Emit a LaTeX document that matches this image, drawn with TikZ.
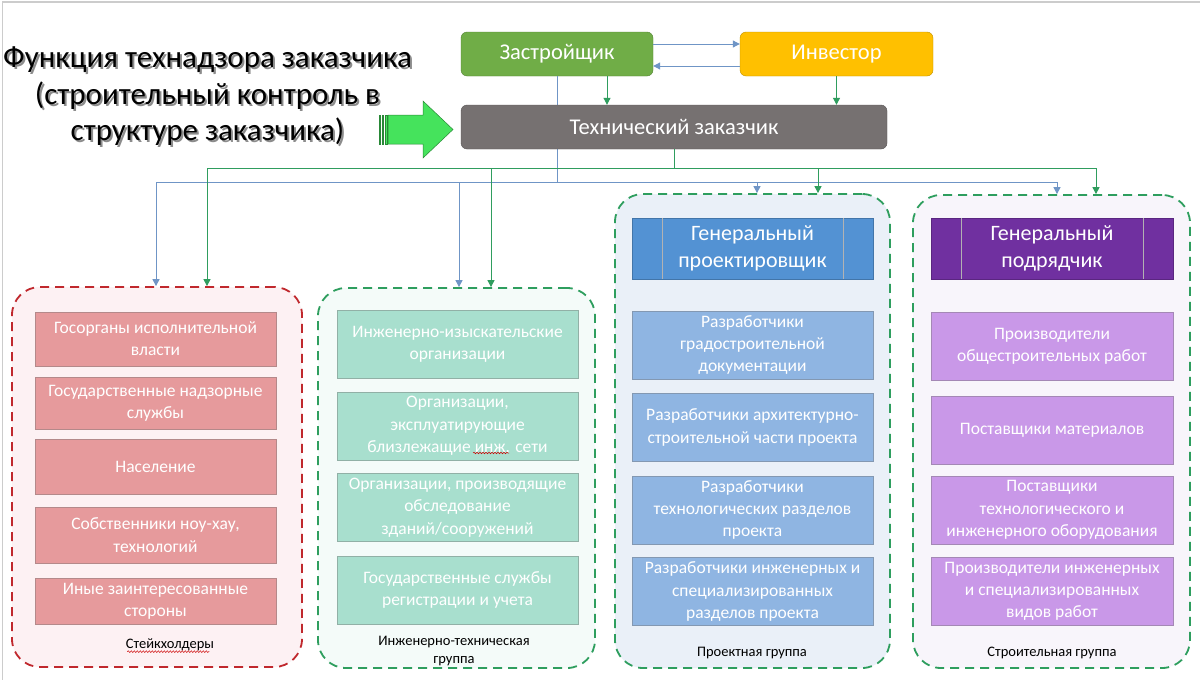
\documentclass[tikz,border=0pt]{standalone}
\usepackage{fontspec}
\setmainfont{Carlito}
\usetikzlibrary{arrows.meta,decorations.pathmorphing}

\definecolor{lineblue}{HTML}{6F95C6}
\definecolor{linegreen}{HTML}{2F9D5E}
\definecolor{zastrgreen}{HTML}{70AD47}
\definecolor{investyellow}{HTML}{FFC000}
\definecolor{techgray}{HTML}{767171}
\definecolor{grpred}{HTML}{C0282D}
\definecolor{grpgreen}{HTML}{2E9E5E}
\definecolor{pinkfill}{HTML}{E69A9C}
\definecolor{mintfill}{HTML}{A8DFCE}
\definecolor{bluefill}{HTML}{8FB5E2}
\definecolor{lilacfill}{HTML}{C998E8}
\definecolor{hdrblue}{HTML}{5392D3}
\definecolor{hdrpurple}{HTML}{7030A0}
\definecolor{arrowgreen}{HTML}{45E35C}
\definecolor{redbg}{HTML}{FDF1F3}
\definecolor{mintbg}{HTML}{F4FBF9}
\definecolor{bluebg}{HTML}{EAF0F8}
\definecolor{lilacbg}{HTML}{F8F5FB}

\begin{document}
\begin{tikzpicture}[x=1pt,y=-1pt,
  topbox/.style={draw=#1!75!black,fill=#1,rounded corners=6pt,text=white,
    minimum height=44,font=\fontsize{22.5}{26}\selectfont},
  grp/.style={draw=#1,dashed,dash pattern=on 9pt off 6pt,line width=1.8pt,
    rounded corners=28pt,inner sep=0pt},
  item/.style={draw=#1!70!black!80,fill=#1,text=white,align=center,thin,
    minimum width=241,font=\fontsize{17.5}{22.3}\selectfont},
  hdr/.style={draw=#1!80!black,fill=#1,text=white,align=center,thin,
    minimum width=241,minimum height=61,font=\fontsize{22}{27}\selectfont},
  grplabel/.style={align=center,font=\fontsize{14.5}{18}\selectfont},
  bluearr/.style={draw=lineblue,line width=1pt,-{Triangle[width=7pt,length=7pt]}},
  greenarr/.style={draw=linegreen,line width=1pt,-{Triangle[width=7pt,length=7pt]}},
  wavy/.style={draw=red!80!black,line width=0.5pt,
    decorate,decoration={snake,amplitude=0.8pt,segment length=3pt}}
]
\fill[white] (0,0) rectangle (1200,680);
\useasboundingbox (0,0) rectangle (1200,680);
\draw[black!20,line width=1.5pt] (2.5,680) -- (2.5,2) -- (1200,2);

% title
\node[align=center,text=black!45,font=\fontsize{31}{36.5}\selectfont] (titlesh) at (209.5,98.5)
  {Функция технадзора заказчика\\(строительный контроль в\\структуре заказчика)};
\node[align=center,font=\fontsize{31}{36.5}\selectfont] (title) at (207.5,96.5)
  {Функция технадзора заказчика\\(строительный контроль в\\структуре заказчика)};

% arrow
\foreach \x in {379,382.2,385.4}
{
\fill[arrowgreen,draw=arrowgreen!60!black,line width=0.3pt] (\x,115) rectangle (\x+1.4,144);
}
\draw[fill=arrowgreen,draw=arrowgreen!60!black,line width=0.5pt]
  (388,115) -- (423,115) -- (423,101) -- (453,129.5) -- (423,158) -- (423,144) -- (388,144) -- cycle;

% top
\node[topbox=zastrgreen,minimum width=192] (zastr) at (557,54) {Застройщик};
\node[topbox=investyellow,minimum width=193] (invest) at (836.5,54) {Инвестор};
\draw[bluearr] ([yshift=10pt]zastr.east) -- ([yshift=10pt]invest.west);
\draw[bluearr] ([yshift=-12pt]invest.west) -- ([yshift=-12pt]zastr.east);
\coordinate (bl) at (557,182);
\coordinate (gl) at (674,168);
\draw[lineblue,line width=1pt] (zastr.south) -- (bl);
\node[topbox=techgray,minimum width=426] (tech) at (674,127) {Технический заказчик};
\draw[greenarr] (607,0 |- zastr.south) -- (607,0 |- tech.north);
\draw[greenarr] (invest.south) -- (invest.south |- tech.north);
\draw[linegreen,line width=1pt] (tech.south) -- (gl);

% groups
\node[grp=grpred,fill=redbg,minimum width=290,minimum height=380] (stgrp) at (157,477) {};
\node[grp=grpgreen,fill=mintbg,minimum width=277,minimum height=380] (itgrp) at (456.5,478) {};
\node[grp=grpgreen,fill=bluebg,minimum width=275,minimum height=474] (prgrp) at (752.5,431) {};
\node[grp=grpgreen,fill=lilacbg,minimum width=277,minimum height=473] (stroigrp) at (1051.5,431.5) {};

\foreach \x/\g in {156/stgrp,459/itgrp,757/prgrp,1057/stroigrp}
{
\draw[bluearr] (bl) -| (\x,0 |- \g.north);
}
\foreach \x/\g in {207/stgrp,491/itgrp,818/prgrp,1096/stroigrp}
{
\draw[greenarr] (gl) -| (\x,0 |- \g.north);
}

% stakeholders
\foreach \n/\y/\h/\t in {1/339/54/{Госорганы исполнительной\\власти},
  2/403/52/{Государственные надзорные\\службы},
  3/466.5/55/{Население},
  4/535/56/{Собственники ноу-хау,\\технологий},
  5/601/46/{Иные заинтересованные\\стороны}}
{
\node[item=pinkfill,minimum height=\h] (st\n) at (155.5,\y) {\t};
}
\node[grplabel] (stlab) at (170,645) {Стейкхолдеры};
\draw[wavy] (stlab.south west) ++(5,-3) -- ++(82,0);

% engineering
\foreach \n/\y/\t in {1/344/{Инженерно-изыскательские\\организации},
  2/426/{Организации,\\эксплуатирующие\\близлежащие инж. сети},
  3/507.5/{Организации, производящие\\обследование\\зданий/сооружений},
  4/590/{Государственные службы\\регистрации и учета}}
{
\node[item=mintfill,minimum height=68] (it\n) at (457.5,\y) {\t};
}
\draw[wavy] (473,453) -- (509,453);
\node[grplabel] (itlab) at (454,651) {Инженерно-техническая\\группа};

% design
\node[hdr=hdrblue] (gp) at (752.5,248.5) {Генеральный\\проектировщик};
\foreach \n/\y/\t in {1/345/{Разработчики\\градостроительной\\документации},
  2/427.5/{Разработчики архитектурно-\\строительной части проекта},
  3/510/{Разработчики\\технологических разделов\\проекта},
  4/591.5/{Разработчики инженерных и\\специализированных\\разделов проекта}}
{
\node[item=bluefill,minimum height=68] (pr\n) at (752.5,\y) {\t};
}
\node[grplabel] (prlab) at (752,653) {Проектная группа};

% construction
\node[hdr=hdrpurple,minimum width=242] (gs) at (1052,248.5) {Генеральный\\подрядчик};
\foreach \n/\y/\t in {1/346/{Производители\\общестроительных работ},
  2/430/{Поставщики материалов},
  3/510/{Поставщики\\технологического и\\инженерного оборудования},
  4/591.5/{Производители инженерных\\и специализированных\\видов работ}}
{
\node[item=lilacfill,minimum width=242,minimum height=68] (sr\n) at (1052,\y) {\t};
}
\node[grplabel] (srlab) at (1052,653) {Строительная группа};

\foreach \s in {gp,gs}
{
\draw[black!30,thin] ([xshift=30pt]\s.north west) -- ([xshift=30pt]\s.south west);
\draw[black!30,thin] ([xshift=-30pt]\s.north east) -- ([xshift=-30pt]\s.south east);
}
\end{tikzpicture}
\end{document}
